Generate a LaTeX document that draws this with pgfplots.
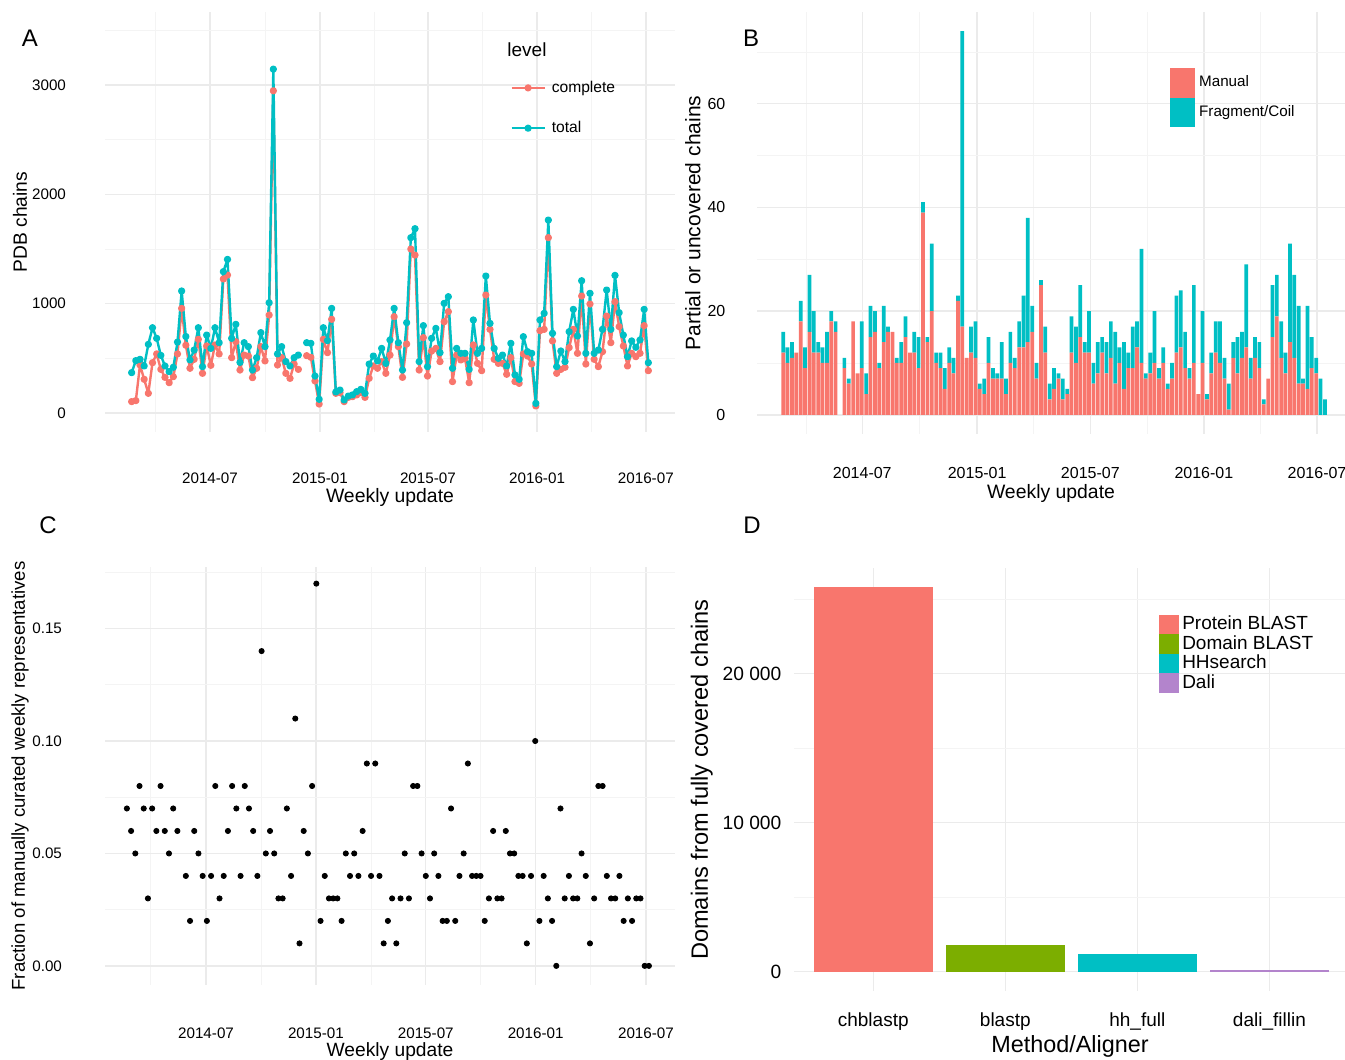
\documentclass[border=0pt]{standalone}
\usepackage{pgfplots}
\pgfplotsset{compat=1.18}
\usepackage{pgfplotstable}
\usepackage{fontspec}
\setmainfont{Liberation Sans}
\definecolor{ggred}{HTML}{F8766D}
\definecolor{ggteal}{HTML}{00BFC4}
\definecolor{gggreen}{HTML}{7CAE00}
\definecolor{ggpurple}{HTML}{B384CC}
\definecolor{gridmaj}{HTML}{EBEBEB}
\definecolor{gridmin}{HTML}{F4F4F4}

\pgfplotstableread{
k T R
0 369 104
1 479 113
2 491 439
3 430 308
4 628 180
5 780 460
6 683 540
7 527 399
8 430 326
9 378 277
10 418 332
11 649 540
12 1116 957
13 700 620
14 485 409
15 576 491
16 780 674
17 424 363
18 713 613
19 591 436
20 780 622
21 643 540
22 1293 1226
23 1405 1262
24 683 506
25 811 652
26 463 393
27 643 530
28 607 521
29 393 323
30 506 409
31 735 607
32 607 476
33 1009 896
34 3146 2948
35 540 439
36 607 506
37 470 363
38 430 317
39 506 448
40 530 399
41 nan nan
42 643 524
43 637 509
44 338 293
45 125 82
46 780 674
47 662 552
48 957 857
49 192 180
50 210 186
51 119 104
52 155 143
53 165 149
54 195 165
55 216 186
56 180 143
57 448 317
58 521 430
59 476 409
60 591 470
61 454 363
62 668 530
63 957 881
64 643 607
65 393 326
66 826 631
67 1604 1500
68 1686 1445
69 470 393
70 799 689
71 424 338
72 683 567
73 774 591
74 552 470
75 1003 835
76 1064 927
77 409 287
78 591 530
79 546 485
80 546 500
81 399 277
82 851 622
83 546 454
84 591 387
85 1253 1079
86 820 765
87 591 491
88 500 454
89 530 454
90 430 354
91 637 506
92 348 287
93 308 271
94 698 540
95 561 521
96 546 448
97 88 64
98 851 753
99 912 765
100 1765 1604
101 729 659
102 424 363
103 567 399
104 470 418
105 744 598
106 948 765
107 704 546
108 1210 1070
109 546 448
110 1095 997
111 546 491
112 576 424
113 765 561
114 1125 887
115 765 643
116 1259 1018
117 918 790
118 713 613
119 515 430
120 659 546
121 601 515
122 668 546
123 948 799
124 460 387
}\dataA

\pgfplotstableread{
k man frag
0 12 4
1 10 3
2 11 3
3 12 0
4 18 4
5 9 4
6 16 11
7 12 8
8 12 2
9 10 3
10 10 6
11 18 2
12 16 2
14 9 2
15 6 1
16 18 0
17 8 0
18 9 9
19 4 4
20 15 6
21 16 4
22 9 1
23 14 7
24 16 1
25 16 0
26 10 1
27 10 4
28 15 4
29 12 0
30 12 4
31 9 6
32 39 2
33 14 1
34 20 13
35 10 2
36 9 3
37 5 4
38 10 3
39 8 3
40 22 1
41 17 57
42 11 0
43 12 5
44 11 7
45 5 1
46 4 3
47 10 5
48 7 2
49 7 1
50 7 7
51 4 3
52 10 6
53 9 2
54 13 5
55 13 10
56 14 24
57 16 5
58 7 3
59 25 1
60 12 5
61 3 3
62 5 4
63 7 1
64 3 4
65 4 1
66 12 7
67 10 7
68 15 10
69 12 2
70 12 8
71 6 4
72 8 6
73 12 3
74 8 6
75 11 7
76 6 10
77 10 3
78 5 9
79 9 3
80 9 8
81 13 5
82 10 22
83 7 1
84 8 4
85 10 10
86 7 2
87 10 3
88 5 1
89 7 3
90 12 11
91 13 11
92 9 7
93 7 2
94 10 15
95 4 0
96 10 10
97 3 1
98 8 4
99 12 6
100 10 8
101 7 4
102 1 5
103 11 3
104 8 7
105 11 5
106 13 16
107 7 4
108 11 4
109 9 5
110 2 1
111 7 0
112 15 10
113 19 8
114 11 7
115 8 4
116 14 19
117 11 16
118 6 15
119 6 1
120 5 16
121 9 6
122 8 3
123 0 7
124 0 3
}\dataB

\pgfplotstableread{
k f
0 0.07
1 0.06
2 0.05
3 0.08
4 0.07
5 0.03
6 0.07
7 0.06
8 0.08
9 0.06
10 0.05
11 0.07
12 0.06
14 0.04
15 0.02
16 0.06
17 0.05
18 0.04
19 0.02
20 0.04
21 0.08
22 0.03
23 0.04
24 0.06
25 0.08
26 0.07
27 0.04
28 0.08
29 0.07
30 0.06
31 0.04
32 0.14
33 0.05
34 0.06
35 0.05
36 0.03
37 0.03
38 0.07
39 0.04
40 0.11
41 0.01
42 0.06
43 0.05
44 0.08
45 0.17
46 0.02
47 0.04
48 0.03
49 0.03
50 0.03
51 0.02
52 0.05
53 0.04
54 0.05
55 0.04
56 0.06
57 0.09
58 0.04
59 0.09
60 0.04
61 0.01
62 0.02
63 0.03
64 0.01
65 0.03
66 0.05
67 0.03
68 0.08
69 0.08
70 0.05
71 0.04
72 0.03
73 0.05
74 0.04
75 0.02
76 0.02
77 0.07
78 0.02
79 0.04
80 0.05
81 0.09
82 0.04
83 0.04
84 0.04
85 0.02
86 0.03
87 0.06
88 0.03
89 0.03
90 0.06
91 0.05
92 0.05
93 0.04
94 0.04
95 0.01
96 0.04
97 0.10
98 0.02
99 0.04
100 0.03
101 0.02
102 0.00
103 0.07
104 0.03
105 0.04
106 0.03
107 0.03
108 0.05
109 0.04
110 0.01
111 0.03
112 0.08
113 0.08
114 0.04
115 0.03
116 0.03
117 0.04
118 0.02
119 0.03
120 0.02
121 0.03
122 0.03
123 0.00
124 0.00
}\dataC

\pgfplotsset{
  gg/.style={
    scale only axis,
    anchor=south west,
    axis line style={draw=none},
    major tick length=0pt, minor tick length=0pt,
    grid=both,
    major grid style={draw=gridmaj, line width=0.7pt},
    minor grid style={draw=gridmin, line width=0.4pt},
    scaled x ticks=false, scaled y ticks=false,
    clip=false,
  },
}

\begin{document}
\begin{tikzpicture}
\useasboundingbox (0pt,0pt) rectangle (672.5pt,530pt);

% ---------------- A ----------------
\begin{axis}[gg, at={(52.5pt,314pt)}, width=285pt, height=210pt,
  xmin=-6.4, xmax=130.4, ymin=-174, ymax=3669,
  xtick={18.8,45.2,71.1,97.3,123.4},
  xticklabels={2014-07,2015-01,2015-07,2016-01,2016-07},
  minor xtick={5.6,32,58.15,84.2,110.35},
  ytick={0,1000,2000,3000}, yticklabels={0,1000,2000,3000},
  minor ytick={500,1500,2500,3500},
  xticklabel style={font=\fontsize{7.6}{8}\selectfont, yshift=-16.7pt},
  yticklabel style={font=\fontsize{7.6}{8}\selectfont, xshift=-16pt},
  xlabel={Weekly update},
  xlabel style={font=\fontsize{9.7}{11}\selectfont, at={(axis description cs:0.5,-0.155)}, anchor=center},
  ylabel={PDB chains},
  ylabel style={font=\fontsize{9.6}{11}\selectfont, at={(axis description cs:-0.149,0.5)}, anchor=center},
  unbounded coords=jump,
  legend style={at={(axis description cs:0.7105,0.842)}, anchor=north west, draw=none, fill=none,
    font=\fontsize{7.8}{9}\selectfont, inner sep=0pt, row sep=11pt, column sep=2pt,
    nodes={inner sep=1pt}, cells={anchor=west}},
  legend image code/.code={\draw[mark repeat=2,mark phase=2,#1] plot coordinates {(0pt,0pt) (8.25pt,0pt) (16.5pt,0pt)};},
]
\addplot[color=ggred, line width=1.2pt, line join=round, mark=*, mark size=1.2pt, mark options={solid}] table[x=k,y=R]{\dataA};
\addlegendentry{complete}
\addplot[color=ggteal, line width=1.2pt, line join=round, mark=*, mark size=1.2pt, mark options={solid}] table[x=k,y=T]{\dataA};
\addlegendentry{total}
\end{axis}

% ---------------- B ----------------
\begin{axis}[gg, at={(378.5pt,313pt)}, width=294pt, height=211pt,
  xmin=-6, xmax=128.6, ymin=-3.7, ymax=77.7,
  ybar stacked, bar width=0.85,
  xtick={18.1,44.4,70.3,96.3,122.2},
  xticklabels={2014-07,2015-01,2015-07,2016-01,2016-07},
  minor xtick={5.2,31.25,57.35,83.3,109.25},
  ytick={0,20,40,60}, yticklabels={0,20,40,60},
  minor ytick={10,30,50,70},
  xticklabel style={font=\fontsize{8}{9}\selectfont, yshift=-13pt},
  yticklabel style={font=\fontsize{8}{9}\selectfont, xshift=-12.3pt},
  xlabel={Weekly update},
  xlabel style={font=\fontsize{9.7}{11}\selectfont, at={(axis description cs:0.5,-0.142)}, anchor=center},
  ylabel={Partial or uncovered chains},
  ylabel style={font=\fontsize{10.5}{12}\selectfont, at={(axis description cs:-0.109,0.5)}, anchor=center},
  legend style={at={(axis description cs:0.702,0.868)}, anchor=north west, draw=none, fill=none,
    font=\fontsize{7.6}{9}\selectfont, inner sep=0pt, row sep=0pt, column sep=1.5pt,
    nodes={inner sep=0.5pt}, cells={anchor=west}},
  legend image code/.code={\path[#1] (0pt,-7.4pt) rectangle (12.5pt,7.4pt);},
]
\addplot[fill=ggred, draw=none] table[x=k,y=man]{\dataB};
\addlegendentry{Manual}
\addplot[fill=ggteal, draw=none] table[x=k,y=frag]{\dataB};
\addlegendentry{Fragment/Coil}
\end{axis}

% ---------------- C ----------------
\begin{axis}[gg, at={(52.5pt,37.5pt)}, width=285pt, height=209pt,
  xmin=-5.2, xmax=130.2, ymin=-0.0085, ymax=0.1774,
  xtick={18.8,44.9,71.0,97.1,123.3},
  xticklabels={2014-07,2015-01,2015-07,2016-01,2016-07},
  minor xtick={5.7,31.9,58,84,110.2},
  ytick={0,0.05,0.1,0.15}, yticklabels={0.00,0.05,0.10,0.15},
  minor ytick={0.025,0.075,0.125,0.175},
  xticklabel style={font=\fontsize{7.6}{8}\selectfont, yshift=-17.7pt},
  yticklabel style={font=\fontsize{7.6}{8}\selectfont, xshift=-18pt},
  xlabel={Weekly update},
  xlabel style={font=\fontsize{9.6}{11}\selectfont, at={(axis description cs:0.5,-0.158)}, anchor=center},
  ylabel={Fraction of manually curated weekly representatives},
  ylabel style={font=\fontsize{9.3}{11}\selectfont, at={(axis description cs:-0.149,0.5)}, anchor=center},
]
\addplot[only marks, mark=*, mark size=1.3pt, black] table[x=k,y=f]{\dataC};
\end{axis}

% ---------------- D ----------------
\begin{axis}[gg, at={(397pt,34.5pt)}, width=276pt, height=211.5pt,
  xmin=-0.6, xmax=3.58, ymin=-1290, ymax=27090,
  ybar, bar width=0.9, bar shift=0pt,
  xtick={0,1,2,3}, xticklabels={chblastp,blastp,hh\_full,dali\_fillin},
  ytick={0,10000,20000}, yticklabels={0,{10 000},{20 000}},
  minor ytick={5000,15000,25000},
  xticklabel style={font=\fontsize{9.5}{11}\selectfont, yshift=-7.3pt},
  yticklabel style={font=\fontsize{9.6}{11}\selectfont, xshift=-2.8pt},
  xlabel={Method/Aligner},
  xlabel style={font=\fontsize{11.7}{13}\selectfont, at={(axis description cs:0.5,-0.13)}, anchor=center},
  ylabel={Domains from fully covered chains},
  ylabel style={font=\fontsize{11.8}{13}\selectfont, at={(axis description cs:-0.167,0.5)}, anchor=center},
  legend style={at={(axis description cs:0.661,0.891)}, anchor=north west, draw=none, fill=none,
    font=\fontsize{9.5}{11}\selectfont, inner sep=0pt, row sep=0pt, column sep=1pt,
    nodes={inner sep=0.5pt}, cells={anchor=west}},
  legend image code/.code={\path[#1] (0pt,-4.9pt) rectangle (10pt,4.9pt);},
]
\addplot[fill=ggred, draw=none] coordinates {(0,25800)};
\addlegendentry{Protein BLAST}
\addplot[fill=gggreen, draw=none] coordinates {(1,1800)};
\addlegendentry{Domain BLAST}
\addplot[fill=ggteal, draw=none] coordinates {(2,1200)};
\addlegendentry{HHsearch}
\addplot[fill=ggpurple, draw=none] coordinates {(3,100)};
\addlegendentry{Dali}
\end{axis}

% panel letters and legend title
\node[font=\fontsize{12}{14}\selectfont] at (15pt,511pt) {A};
\node[font=\fontsize{12}{14}\selectfont] at (375.5pt,511pt) {B};
\node[font=\fontsize{12}{14}\selectfont] at (24pt,267.5pt) {C};
\node[font=\fontsize{12}{14}\selectfont] at (376pt,267.5pt) {D};
\node[font=\fontsize{9.5}{11}\selectfont] at (263.5pt,505pt) {level};
\end{tikzpicture}
\end{document}
